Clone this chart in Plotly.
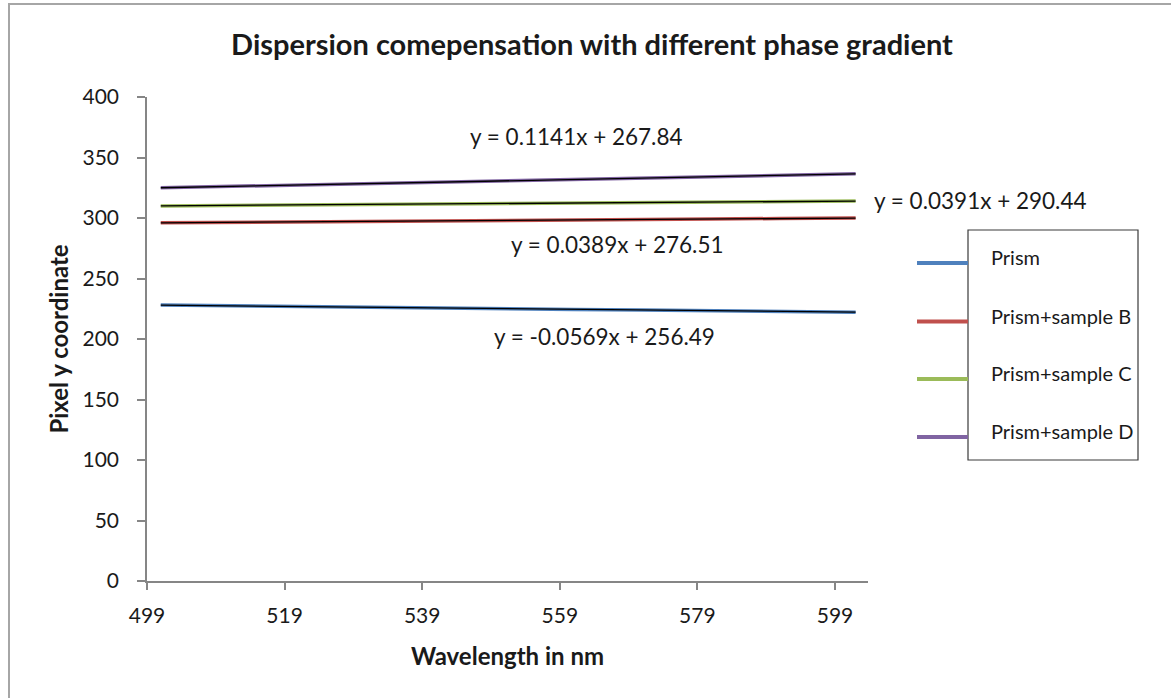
import plotly.graph_objects as go

# ---- data ----
wavelength = [501, 511, 521, 531, 541, 551, 561, 571, 581, 591, 602]
prism      = [228.1, 227.4, 226.9, 226.3, 225.7, 225.2, 224.4, 224.0, 223.5, 222.9, 222.2]
sample_b   = [296.0, 296.3, 296.8, 297.2, 297.6, 298.0, 298.4, 298.7, 299.1, 299.6, 299.9]
sample_c   = [310.0, 310.4, 310.8, 311.2, 311.6, 312.0, 312.3, 312.8, 313.1, 313.6, 314.0]
sample_d   = [325.0, 326.1, 327.4, 328.5, 329.6, 330.7, 331.9, 333.0, 334.1, 335.3, 336.5]
series_names = ["Prism", "Prism+sample B", "Prism+sample C", "Prism+sample D"]
series_colors = ["#4F81BD", "#C0504D", "#9BBB59", "#8064A2"]
slopes     = [-0.0569, 0.0389, 0.0391, 0.1141]
intercepts = [256.49, 276.51, 290.44, 267.84]
x_ticks = [499, 519, 539, 559, 579, 599]
y_ticks = [0, 50, 100, 150, 200, 250, 300, 350, 400]

W, H = 1171, 698
L, R, T, B = 147, 868, 97, 581  # plot area pixel box

def px(X):
    return (X - L) / (R - L)

def py(Y):
    return (B - Y) / (B - T)

FONT = "Lato, 'Open Sans', sans-serif"
TXT = "#1a1a1a"

fig = go.Figure()
all_series = [prism, sample_b, sample_c, sample_d]
for name, vals, col in zip(series_names, all_series, series_colors):
    fig.add_trace(go.Scatter(x=wavelength, y=vals, mode="lines", name=name,
                             line=dict(color=col, width=3.5), showlegend=False))
for name, m, c in zip(series_names, slopes, intercepts):
    xs = [wavelength[0], wavelength[-1]]
    fig.add_trace(go.Scatter(x=xs, y=[m * v + c for v in xs], mode="lines",
                             line=dict(color="#000000", width=1.3),
                             showlegend=False, hoverinfo="skip",
                             name="Linear (" + name + ")"))

shapes = []
annotations = []
# outer chart border
shapes.append(dict(type="rect", xref="paper", yref="paper",
                   x0=px(9), x1=px(1180), y0=py(4), y1=py(710),
                   line=dict(color="#A6A6A6", width=2), layer="below"))
# legend box
shapes.append(dict(type="rect", xref="paper", yref="paper",
                   x0=px(968), x1=px(1138), y0=py(230), y1=py(460),
                   line=dict(color="#3a3a3a", width=1.2)))
leg_y = [263, 321.5, 379, 437]
for name, col, ly in zip(series_names, series_colors, leg_y):
    shapes.append(dict(type="line", xref="paper", yref="paper",
                       x0=px(917), x1=px(968), y0=py(ly), y1=py(ly),
                       line=dict(color=col, width=4)))
    annotations.append(dict(text=name, xref="paper", yref="paper",
                            x=px(989), y=py(ly - 6), xanchor="left", yanchor="middle",
                            showarrow=False, font=dict(family=FONT, size=20, color=TXT)))

# trendline equations
eq_pos = [(604, 336, "center"), (617, 244, "center"), (872, 200, "left"), (576, 137, "center")]
for m, c, (ex, ey, anc) in zip(slopes, intercepts, eq_pos):
    sign = "-" if m < 0 else ""
    txt = "y = %s%.4fx + %.2f" % (sign, abs(m), c)
    annotations.append(dict(text=txt, xref="paper", yref="paper", x=px(ex), y=py(ey),
                            xanchor=anc, yanchor="middle", showarrow=False,
                            font=dict(family=FONT, size=22.5, color=TXT)))

fig.update_layout(
    width=W, height=H,
    margin=dict(l=L, r=W - R, t=T, b=H - B),
    paper_bgcolor="white", plot_bgcolor="white",
    title=dict(text="<b>Dispersion comepensation with different phase gradient</b>",
               xref="container", x=592 / W, xanchor="center",
               yref="container", y=1 - 45 / H, yanchor="middle",
               font=dict(family=FONT, size=29, color=TXT)),
    shapes=shapes, annotations=annotations,
    showlegend=False,
)
fig.update_xaxes(range=[499, 603.8], tickmode="array", tickvals=x_ticks,
                 ticktext=[str(v) for v in x_ticks],
                 showgrid=False, zeroline=False, showline=True,
                 linecolor="#868686", linewidth=1.5,
                 ticks="outside", ticklen=7, tickcolor="#868686", tickwidth=1.5,
                 ticklabelstandoff=8,
                 tickfont=dict(family=FONT, size=21, color=TXT),
                 title=dict(text="<b>Wavelength in nm</b>", standoff=22,
                            font=dict(family=FONT, size=24, color=TXT)))
fig.update_yaxes(range=[0, 400], tickmode="array", tickvals=y_ticks,
                 showgrid=False, zeroline=False, showline=True,
                 linecolor="#868686", linewidth=1.5,
                 ticks="outside", ticklen=8, tickcolor="#868686", tickwidth=1.5,
                 ticklabelstandoff=14,
                 tickfont=dict(family=FONT, size=21, color=TXT),
                 title=dict(text="<b>Pixel y coordinate</b>", standoff=7,
                            font=dict(family=FONT, size=24, color=TXT)))

fig.write_html("out.html")
